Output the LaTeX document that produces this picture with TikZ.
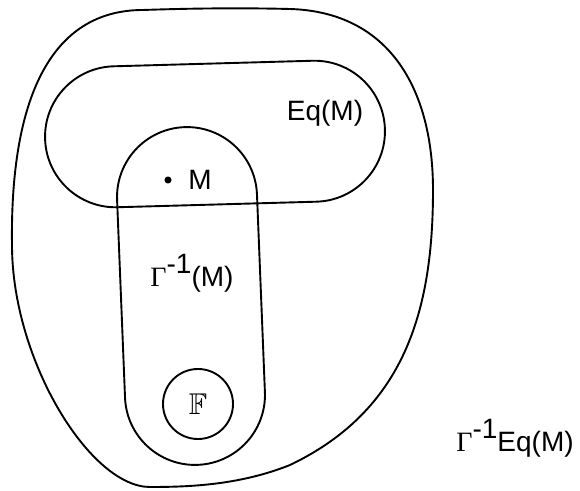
\documentclass[tikz,border=0pt]{standalone}
\usepackage{amssymb}
\usepackage{fontspec}
\setmainfont{Liberation Sans}
\newfontfamily\gammafont{Liberation Serif}
\usetikzlibrary{shapes.misc}
\newcommand{\ginv}{{\gammafont Γ}\raisebox{0.45em}{-1}}
\tikzset{
  region/.style={draw, line width=1.9pt, inner sep=0pt},
  lbl/.style={font=\fontsize{28}{34}\selectfont, inner sep=0pt},
}
\begin{document}
\begin{tikzpicture}[x=1pt,y=1pt]
\useasboundingbox (0,0) rectangle (580,490);
% outer region
\draw[region] (143,480) .. controls (200,482) and (250,482) .. (290,481)
  .. controls (390,478) and (433,400) .. (433,300)
  .. controls (433,180) and (405,80) .. (290,25)
  .. controls (240,5) and (190,3) .. (150,3)
  .. controls (90,3) and (12,130) .. (12,245)
  .. controls (10,390) and (50,480) .. cycle;
% Eq(M) and Gamma^{-1}(M)
\node[region, rounded rectangle, minimum width=340, minimum height=141, rotate=1.6] (eq) at (215,356) {};
\node[region, rounded rectangle, minimum width=338, minimum height=140, rotate=92.3] (gam) at (191,194) {};
\node[region, circle, minimum size=70] (ff) at (198,86) {\fontsize{30}{36}\selectfont$\mathbb{F}$};
% point M
\node[circle, fill, inner sep=2.5pt] (pt) at (168,310) {};
\node[lbl] (m) at (200,310) {M};
% labels
\node[lbl] (eqlbl) at (325,377) {Eq(M)};
\node[lbl] (gamlbl) at (192,217) {\ginv(M)};
\node[lbl] (outlbl) at (515,52) {\ginv Eq(M)};
\end{tikzpicture}
\end{document}
